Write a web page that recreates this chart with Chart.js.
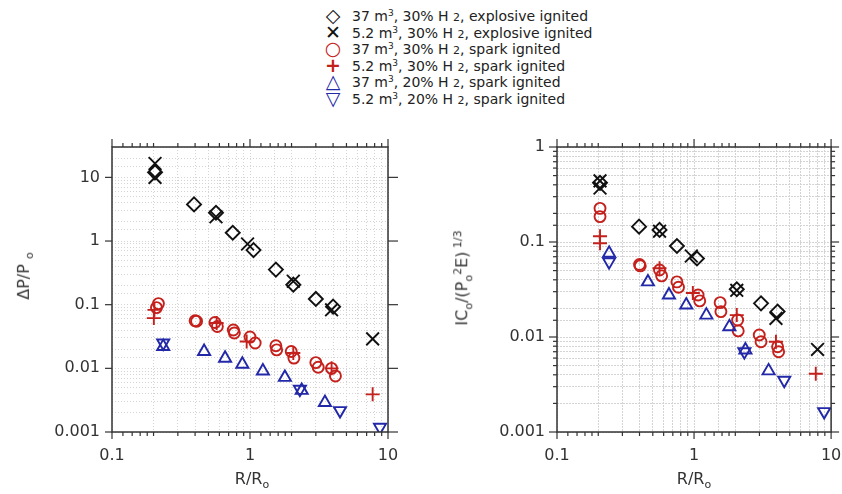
<!DOCTYPE html>
<html lang="en">
<head>
    <meta charset="UTF-8">
    <title>Blast overpressure and impulse vs scaled distance</title>
    <script src="https://cdn.jsdelivr.net/npm/chart.js"></script>
    <style>
    body {
        margin: 0;
        width: 842px;
        height: 494px;
        overflow: hidden;
        background: #fff;
        font-family: "DejaVu Sans", sans-serif;
        color: #222;
        position: relative;
    }
    canvas { position: absolute; top: 0; }
    #left-wrap { position: absolute; left: 0; top: 0; width: 421px; height: 494px; }
    #right-wrap { position: absolute; left: 421px; top: 0; width: 421px; height: 494px; }
    .legend {
        position: absolute;
        left: 314px;
        top: 8px;
        font-size: 14px;
        line-height: 16.6px;
    }
    .legend div { height: 16.6px; }
    .legend .sym {
        display: inline-block;
        width: 38px;
        text-align: center;
        font-size: 19px;
        font-weight: bold;
        line-height: 0;
        vertical-align: -1px;
    }
    .legend sup { font-size: 9px; vertical-align: 5px; line-height: 0; }
    .legend small { font-size: 11px; }
    .ytitle, .xtitle {
        position: absolute;
        font-size: 16px;
        color: #333;
        white-space: nowrap;
    }
    .ytitle { transform: translate(-50%, -50%) rotate(-90deg); }
    .xtitle { transform: translateX(-50%); }
    .ytitle sub, .xtitle sub { font-size: 11px; }
    .ytitle sup { font-size: 11px; }
    </style>
</head>
<body>
    <div class="legend">
        <div><span class="sym" style="color:#111">◇</span>37 m<sup>3</sup>, 30% H <small>2</small>, explosive ignited</div>
        <div><span class="sym" style="color:#111">✕</span>5.2 m<sup>3</sup>, 30% H <small>2</small>, explosive ignited</div>
        <div><span class="sym" style="color:#c4201c">○</span>37 m<sup>3</sup>, 30% H <small>2</small>, spark ignited</div>
        <div><span class="sym" style="color:#c4201c">+</span>5.2 m<sup>3</sup>, 30% H <small>2</small>, spark ignited</div>
        <div><span class="sym" style="color:#2228a8">△</span>37 m<sup>3</sup>, 20% H <small>2</small>, spark ignited</div>
        <div><span class="sym" style="color:#2228a8">▽</span>5.2 m<sup>3</sup>, 20% H <small>2</small>, spark ignited</div>
    </div>

    <div id="left-wrap"><canvas id="chart-dp"></canvas></div>
    <div id="right-wrap"><canvas id="chart-ic"></canvas></div>

    <div class="ytitle" style="left:25px; top:276px">ΔP/P <sub>o</sub></div>
    <div class="ytitle" style="left:463px; top:278px">IC<sub>o</sub>/(P<sub>o</sub><sup>2</sup>E)<sup> 1/3</sup></div>
    <div class="xtitle" style="left:252px; top:469px">R/R<sub>o</sub></div>
    <div class="xtitle" style="left:694px; top:469px">R/R<sub>o</sub></div>

    <script>
        // ---- data: left panel, overpressure dP/Po vs R/Ro ----
        const dpExplBigX = [0.205, 0.393, 0.567, 0.75, 1.06, 1.54, 2.06, 3.0, 4.0];
        const dpExplBigY = [12, 3.76, 2.78, 1.35, 0.72, 0.356, 0.206, 0.123, 0.093];
        const dpExplSmallX = [0.205, 0.205, 0.567, 0.96, 2.06, 3.9, 7.74];
        const dpExplSmallY = [16.5, 10, 2.4, 0.9, 0.233, 0.083, 0.029];
        const dpSpark30BigX = [0.217, 0.21, 0.40, 0.41, 0.557, 0.58, 0.757, 0.77, 1.0, 1.09, 1.54, 1.56, 1.99, 2.08, 3.0, 3.12, 3.9, 4.16];
        const dpSpark30BigY = [0.104, 0.09, 0.056, 0.055, 0.0526, 0.0455, 0.040, 0.036, 0.031, 0.025, 0.0226, 0.0195, 0.0184, 0.0145, 0.0123, 0.0104, 0.0100, 0.0076];
        const dpSpark30SmallX = [0.203, 0.201, 0.573, 0.946, 2.06, 3.9, 7.74];
        const dpSpark30SmallY = [0.083, 0.0616, 0.0515, 0.0264, 0.0174, 0.0100, 0.0039];
        const dpSpark20BigX = [0.235, 0.465, 0.66, 0.88, 1.24, 1.79, 2.37, 3.49];
        const dpSpark20BigY = [0.022, 0.0184, 0.0144, 0.0116, 0.0091, 0.0072, 0.0045, 0.0029];
        const dpSpark20SmallX = [0.235, 2.3, 4.49, 8.75];
        const dpSpark20SmallY = [0.025, 0.0047, 0.00217, 0.00119];

        // ---- data: right panel, scaled impulse vs R/Ro ----
        const icExplBigX = [0.206, 0.397, 0.56, 0.75, 1.05, 2.05, 3.08, 4.07];
        const icExplBigY = [0.42, 0.145, 0.134, 0.0907, 0.067, 0.0318, 0.0226, 0.0185];
        const icExplSmallX = [0.206, 0.206, 0.56, 0.955, 2.05, 3.96, 7.96];
        const icExplSmallY = [0.44, 0.37, 0.13, 0.0713, 0.031, 0.0157, 0.0074];
        const icSpark30BigX = [0.206, 0.206, 0.40, 0.405, 0.56, 0.58, 0.75, 0.77, 1.07, 1.1, 1.55, 1.57, 2.08, 2.1, 2.99, 3.08, 4.07, 4.14];
        const icSpark30BigY = [0.226, 0.185, 0.058, 0.056, 0.0507, 0.044, 0.038, 0.0334, 0.0277, 0.024, 0.023, 0.0185, 0.0151, 0.0116, 0.0105, 0.0089, 0.0079, 0.0070];
        const icSpark30SmallX = [0.206, 0.206, 0.56, 0.98, 2.05, 3.96, 7.73];
        const icSpark30SmallY = [0.115, 0.097, 0.053, 0.029, 0.017, 0.0089, 0.0041];
        const icSpark20BigX = [0.24, 0.461, 0.656, 0.877, 1.23, 1.81, 2.37, 3.5];
        const icSpark20BigY = [0.076, 0.038, 0.0277, 0.0217, 0.017, 0.0128, 0.0073, 0.0044];
        const icSpark20SmallX = [0.24, 2.33, 4.55, 8.9];
        const icSpark20SmallY = [0.062, 0.0070, 0.0035, 0.00164];

        // minor tick mantissas used on the top/bottom frame
        const frameTickMant = [1.2, 1.4, 1.6, 1.8, 2, 3, 4, 5, 6, 7, 8, 9];

        const BLACK = '#111', RED = '#c4201c', BLUE = '#2228a8';

        function pts(xs, ys) {
            return xs.map((x, i) => ({ x: x, y: ys[i] }));
        }

        function series(xs, ys, color, style, radius, rot) {
            return {
                data: pts(xs, ys),
                borderColor: color,
                backgroundColor: 'rgba(0,0,0,0)',
                pointStyle: style,
                pointRadius: radius,
                pointRotation: rot || 0,
                pointBorderWidth: 1.9,
                showLine: false
            };
        }

        function isDecade(v) {
            const l = Math.log10(v);
            return Math.abs(l - Math.round(l)) < 1e-6;
        }

        function decadeLabel(v) {
            if (!isDecade(v)) return '';
            const e = Math.round(Math.log10(v));
            return e < 0 ? Math.pow(10, e).toFixed(-e) : String(Math.pow(10, e));
        }

        // frame + tick marks like the original plotting package
        const framePlugin = {
            id: 'frame',
            afterDraw(chart, args, opts) {
                const { ctx, chartArea: a, scales } = chart;
                const line = (x1, y1, x2, y2) => {
                    ctx.beginPath(); ctx.moveTo(x1, y1); ctx.lineTo(x2, y2); ctx.stroke();
                };
                ctx.save();
                ctx.strokeStyle = '#333';
                ctx.lineWidth = 1.5;
                ctx.strokeRect(a.left, a.top, a.right - a.left, a.bottom - a.top);
                ctx.lineWidth = 1.2;
                // horizontal axis ticks, outward on top and bottom
                [0.1, 1].forEach(dec => {
                    frameTickMant.forEach(m => {
                        const px = scales.x.getPixelForValue(m * dec);
                        line(px, a.bottom, px, a.bottom + 4);
                        line(px, a.top, px, a.top - 4);
                    });
                });
                [0.1, 1, 10].forEach(v => {
                    const px = scales.x.getPixelForValue(v);
                    line(px, a.bottom, px, a.bottom + 7);
                    line(px, a.top, px, a.top - 8);
                });
                // vertical axis ticks
                scales.y.ticks.forEach(t => {
                    const py = scales.y.getPixelForValue(t.value);
                    if (isDecade(t.value)) {
                        line(a.left - opts.majorLeft, py, a.left, py);
                        line(a.right, py, a.right + opts.majorRight, py);
                    } else if (opts.minor) {
                        line(a.left - 4, py, a.left, py);
                        line(a.right, py, a.right + 4, py);
                    }
                });
                ctx.restore();
            }
        };

        function makeChart(id, datasets, yMin, yMax, yWidth, padRight, gridDash, tickOpts) {
            const tickFont = { family: 'DejaVu Sans', size: 16 };
            return new Chart(document.getElementById(id), {
                type: 'scatter',
                data: { datasets: datasets },
                plugins: [framePlugin],
                options: {
                    responsive: true,
                    maintainAspectRatio: false,
                    animation: false,
                    layout: { padding: { left: 0, top: 147, right: padRight, bottom: 32 } },
                    plugins: {
                        legend: { display: false },
                        tooltip: { enabled: false },
                        frame: tickOpts
                    },
                    scales: {
                        x: {
                            type: 'logarithmic',
                            min: 0.1,
                            max: 10,
                            afterFit: s => { s.height = 30; s.paddingLeft = 0; s.paddingRight = 0; },
                            border: { display: false, dash: gridDash },
                            grid: { color: '#d4d4d4', lineWidth: 1, drawTicks: false },
                            ticks: {
                                autoSkip: false,
                                maxRotation: 0,
                                padding: 14,
                                color: '#333',
                                font: tickFont,
                                callback: v => decadeLabel(v)
                            }
                        },
                        y: {
                            type: 'logarithmic',
                            min: yMin,
                            max: yMax,
                            afterFit: s => { s.width = yWidth; s.paddingTop = 0; s.paddingBottom = 0; },
                            border: { display: false, dash: gridDash },
                            grid: { color: '#d4d4d4', lineWidth: 1, drawTicks: false },
                            ticks: {
                                autoSkip: false,
                                padding: 12,
                                color: '#333',
                                font: tickFont,
                                callback: v => decadeLabel(v)
                            }
                        }
                    }
                }
            });
        }

        makeChart('chart-dp', [
            series(dpSpark20BigX, dpSpark20BigY, BLUE, 'triangle', 7),
            series(dpSpark20SmallX, dpSpark20SmallY, BLUE, 'triangle', 7, 180),
            series(dpSpark30BigX, dpSpark30BigY, RED, 'circle', 5.5),
            series(dpSpark30SmallX, dpSpark30SmallY, RED, 'cross', 7),
            series(dpExplBigX, dpExplBigY, BLACK, 'rectRot', 7),
            series(dpExplSmallX, dpExplSmallY, BLACK, 'crossRot', 9)
        ], 0.001, 30, 112, 33, [1, 2], { majorLeft: 7, majorRight: 10, minor: false });

        makeChart('chart-ic', [
            series(icSpark20BigX, icSpark20BigY, BLUE, 'triangle', 7),
            series(icSpark20SmallX, icSpark20SmallY, BLUE, 'triangle', 7, 180),
            series(icSpark30BigX, icSpark30BigY, RED, 'circle', 5.5),
            series(icSpark30SmallX, icSpark30SmallY, RED, 'cross', 7),
            series(icExplBigX, icExplBigY, BLACK, 'rectRot', 7),
            series(icExplSmallX, icExplSmallY, BLACK, 'crossRot', 9)
        ], 0.001, 1, 136, 9, [2, 1], { majorLeft: 8, majorRight: 8, minor: true });
    </script>
</body>
</html>
